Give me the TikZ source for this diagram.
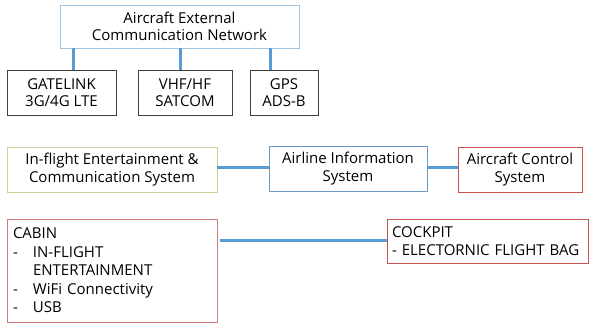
\documentclass[tikz,border=0pt]{standalone}
\usepackage{fontspec}
\setmainfont{Open Sans}
\definecolor{lblue}{HTML}{9DC3E6}
\definecolor{conn}{HTML}{5B9BD5}
\definecolor{olive}{HTML}{D0D09A}
\definecolor{steel}{HTML}{6A9AC4}
\definecolor{redb}{HTML}{C9504D}
\definecolor{pinkb}{HTML}{D07A7A}
\definecolor{grayb}{HTML}{404040}
\begin{document}
\begin{tikzpicture}[x=1pt,y=-1pt,
  box/.style={draw,line width=0.8pt,inner sep=0pt,align=center,font=\fontsize{15}{17.5}\selectfont},
  lbox/.style={draw,line width=0.8pt,inner xsep=6pt,inner ysep=0pt,align=left,font=\fontsize{15}{18.5}\selectfont},
  link/.style={conn,line width=3pt}]
\useasboundingbox (0,0) rectangle (589,323);
\node[box,draw=lblue,minimum width=239,minimum height=43] (net) at (179.5,26.5) {Aircraft External\\Communication Network};
\node[box,draw=grayb,minimum width=109,minimum height=45] (gl) at (61.5,92.5) {GATELINK\\3G/4G LTE};
\node[box,draw=grayb,minimum width=94,minimum height=45] (vhf) at (185,92.5) {VHF/HF\\SATCOM};
\node[box,draw=grayb,minimum width=68,minimum height=45] (gps) at (284,92.5) {GPS\\ADS-B};
\draw[link] (net.south -| 73,0) -- (gl.north -| 73,0);
\draw[link] (net.south -| 180,0) -- (vhf.north -| 180,0);
\draw[link] (net.south -| 270,0) -- (gps.north -| 270,0);

\node[box,draw=olive,minimum width=210,minimum height=45] (ife) at (112,169.5) {In-flight Entertainment \&\\Communication System};
\node[box,draw=steel,minimum width=158,minimum height=45] (ais) at (348,168.5) {Airline Information\\System};
\node[box,draw=redb,minimum width=124,minimum height=45] (acs) at (520,169.5) {Aircraft Control\\System};
\draw[link] (ife.east |- 0,168) -- (ais.west |- 0,168);
\draw[link] (ais.east |- 0,168) -- (acs.west |- 0,168);

\node[lbox,draw=pinkb,text width=198,minimum height=103] (cabin) at (112,270.5) {CABIN\\\makebox[20pt][l]{-}IN-FLIGHT\\\hspace*{20pt}ENTERTAINMENT\\\makebox[20pt][l]{-}WiFi Connectivity\\\makebox[20pt][l]{-}USB};
\node[lbox,draw=redb,inner xsep=5pt,text width=191,minimum height=44] (cock) at (487.5,241) {COCKPIT\\\mbox{- ELECTORNIC FLIGHT BAG}};
\draw[link] (220,241) coordinate (c0) -- (cock.west |- c0);
\end{tikzpicture}
\end{document}
